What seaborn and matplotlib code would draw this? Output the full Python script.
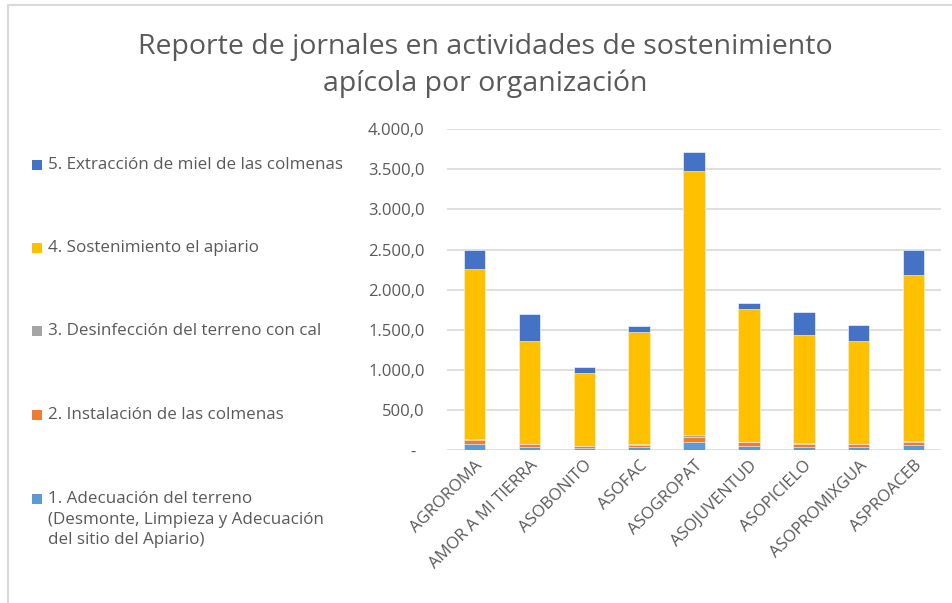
import numpy as np
import pandas as pd
import seaborn as sns
import matplotlib.pyplot as plt
from matplotlib.patches import Rectangle
from matplotlib.lines import Line2D
from matplotlib.ticker import FuncFormatter

# Data (jornales per activity and organization)
organizaciones = ['AGROROMA', 'AMOR A MI TIERRA', 'ASOBONITO', 'ASOFAC', 'ASOGROPAT',
                  'ASOJUVENTUD', 'ASOPICIELO', 'ASOPROMIXGUA', 'ASPROACEB']
adecuacion = [83, 41, 33, 41, 108, 58, 41, 41, 66]
instalacion = [49, 41, 25, 25, 62, 50, 41, 41, 42]
desinfeccion = [13, 0, 0, 17, 17, 0, 9, 0, 12]
sostenimiento = [2113, 1280, 900, 1387, 3292, 1654, 1350, 1280, 2063]
extraccion = [233, 342, 79, 75, 241, 79, 284, 196, 308]

actividades = ['1. Adecuación del terreno\n(Desmonte, Limpieza y Adecuación\ndel sitio del Apiario)',
               '2. Instalación de las colmenas',
               '3. Desinfección del terreno con cal',
               '4. Sostenimiento el apiario',
               '5. Extracción de miel de las colmenas']
colores = ['#5B9BD5', '#ED7D31', '#A5A5A5', '#FFC000', '#4472C4']

df = pd.DataFrame({'organizacion': organizaciones,
                   's1': adecuacion, 's2': instalacion, 's3': desinfeccion,
                   's4': sostenimiento, 's5': extraccion})
series = ['s1', 's2', 's3', 's4', 's5']
cum = df[series].cumsum(axis=1)
cum['organizacion'] = df['organizacion']

sns.set_theme(style='white')
plt.rcParams['font.family'] = ['Open Sans', 'DejaVu Sans']
texto = '#595959'

fig = plt.figure(figsize=(9.52, 6.03), dpi=100)
ax = fig.add_axes([0.4695, 0.253, 0.519, 0.533])

# stacked bars: draw cumulative totals from the top layer down
for i in range(len(series) - 1, -1, -1):
    sns.barplot(data=cum, x='organizacion', y=series[i], color=colores[i],
                width=0.39, edgecolor='white', linewidth=0.4, saturation=1, ax=ax)

ax.set_ylim(0, 4000)
ax.set_xlim(-0.5, len(organizaciones) - 0.5)
ax.set_yticks(np.arange(0, 4001, 500))
ax.yaxis.set_major_formatter(FuncFormatter(
    lambda v, p: '-  ' if v == 0 else f'{v:,.1f}'.replace(',', 'X').replace('.', ',').replace('X', '.')))
ax.grid(axis='y', color='#D9D9D9', linewidth=1.2)
ax.set_axisbelow(True)
for s in ax.spines.values():
    s.set_visible(False)
ax.tick_params(axis='y', length=0, pad=16, labelsize=12, labelcolor=texto)
ax.tick_params(axis='x', length=0, pad=5, labelsize=12, labelcolor=texto)
ax.set_xlabel('')
ax.set_ylabel('')
for lab in ax.get_xticklabels():
    lab.set_rotation(45)
    lab.set_ha('right')
    lab.set_rotation_mode('anchor')

fig.text(0.51, 0.892, 'Reporte de jornales en actividades de sostenimiento\napícola por organización',
         ha='center', va='center', fontsize=20.5, color=texto, linespacing=1.4)

# legend on the left, top entry is the last activity
leg_y = [165, 248, 331, 415, 499]
for k, y in enumerate(leg_y):
    idx = len(series) - 1 - k
    fig.patches.append(Rectangle((32 / 952, 1 - (y + 5) / 603), 10 / 952, 10 / 603,
                                 transform=fig.transFigure, facecolor=colores[idx],
                                 edgecolor='none'))
    fig.text(48 / 952, 1 - (y - 8) / 603, actividades[idx], ha='left', va='top',
             fontsize=12.25, color=texto, linespacing=1.38)

# chart frame edges visible in the screenshot
fig.add_artist(Line2D([8 / 952, 8 / 952], [0, 1 - 5 / 603], color='#D9D9D9', linewidth=1.5,
                      transform=fig.transFigure))
fig.add_artist(Line2D([8 / 952, 1], [1 - 5 / 603, 1 - 5 / 603], color='#D9D9D9', linewidth=1.5,
                      transform=fig.transFigure))

plt.savefig('out.png', dpi=100)
